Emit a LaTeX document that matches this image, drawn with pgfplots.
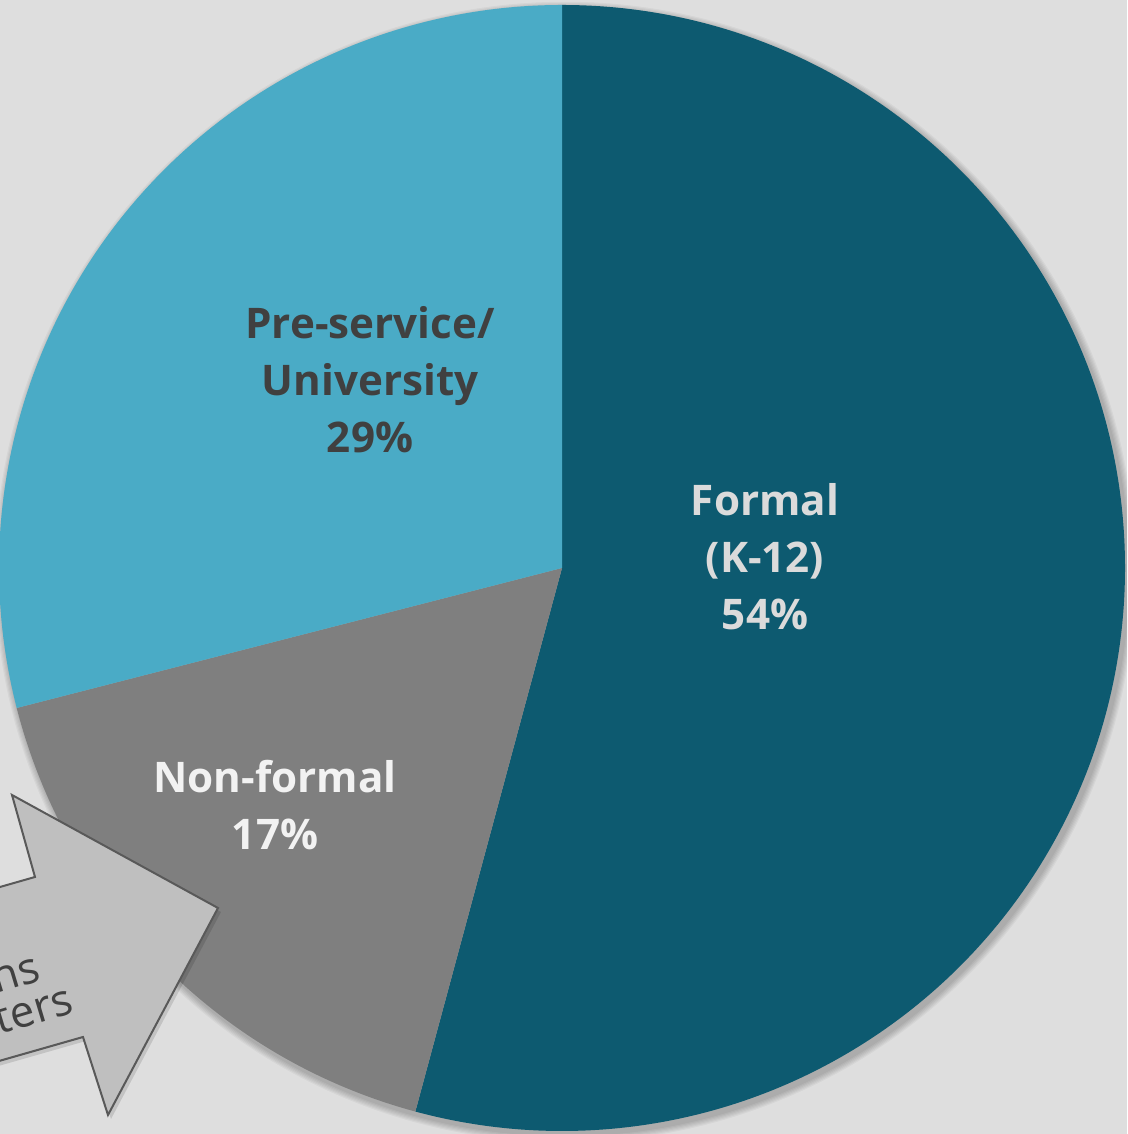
\documentclass[border=0pt]{standalone}
\usepackage{pgfplots}
\pgfplotsset{compat=1.18}
\usepackage{fontspec}
\setmainfont{Open Sans}
\definecolor{bg}{HTML}{DEDEDE}
\definecolor{formal}{HTML}{0D5A70}
\definecolor{nonformal}{HTML}{7F7F7F}
\definecolor{preservice}{HTML}{4AABC6}
\definecolor{darktext}{HTML}{404040}
\definecolor{arrowfill}{HTML}{BFBFBF}
\definecolor{arrowline}{HTML}{595959}
\begin{document}
\begin{tikzpicture}
\begin{axis}[hide axis, scale only axis,
  width=112.7mm, height=113.4mm,
  xmin=-562, xmax=565, ymin=-566, ymax=568,
  clip=true]
% background
\fill[bg] (axis cs:-562,-566) rectangle (axis cs:565,568);
% soft shadow of pie
\pgfplotsinvokeforeach{1,...,6}{
  \fill[black, opacity=0.04] ([shift={(0.3mm,-0.4mm)}]axis cs:0,0) circle[radius=56.3mm+#1*0.12mm];
}
% pie slices: Formal 54.2, Non-formal 16.9, Pre-service 28.9 (clockwise from top)
\fill[formal] (axis cs:0,0) -- ++(90:56.3mm) arc[start angle=90, end angle=-105.1, radius=56.3mm] -- cycle;
\fill[nonformal] (axis cs:0,0) -- ++(-105.1:56.3mm) arc[start angle=-105.1, end angle=-165.6, radius=56.3mm] -- cycle;
\fill[preservice] (axis cs:0,0) -- ++(-165.6:56.3mm) arc[start angle=-165.6, end angle=-270, radius=56.3mm] -- cycle;
% labels
\node[align=center, text=black!14, font=\fontsize{12}{16.2}\selectfont\bfseries] at (axis cs:203,11) {Formal\\(K-12)\\54\%};
\node[align=center, text=darktext, font=\fontsize{12}{16.2}\selectfont\bfseries] at (axis cs:-192,188) {Pre-service/\\University\\29\%};
\node[align=center, text=black!5, font=\fontsize{12}{16.2}\selectfont\bfseries] at (axis cs:-287,-237) {Non-formal\\17\%};
% block arrow callout (shadow then shape)
\fill[black, opacity=0.12, shift={(0.3mm,-0.4mm)}] (axis cs:-702,-359) -- (axis cs:-527,-309) -- (axis cs:-550,-227) -- (axis cs:-344,-340) -- (axis cs:-454,-547) -- (axis cs:-479,-469) -- (axis cs:-654,-519) -- cycle;
\filldraw[fill=arrowfill, draw=arrowline, line width=0.2mm, line join=miter] (axis cs:-702,-359) -- (axis cs:-527,-309) -- (axis cs:-550,-227) -- (axis cs:-344,-340) -- (axis cs:-454,-547) -- (axis cs:-479,-469) -- (axis cs:-654,-519) -- cycle;
\node[anchor=base east, rotate=16.7, inner sep=0pt, text=darktext, font=\fontsize{12.5}{16}\selectfont] at (axis cs:-519,-412) {Cultural institutions};
\node[anchor=base east, rotate=16.7, inner sep=0pt, text=darktext, font=\fontsize{12.5}{16}\selectfont] at (axis cs:-486,-444) {Nature and science centers};
\end{axis}
\pgfresetboundingbox
\useasboundingbox (current axis.south west) rectangle (current axis.north east);
\end{tikzpicture}
\end{document}
